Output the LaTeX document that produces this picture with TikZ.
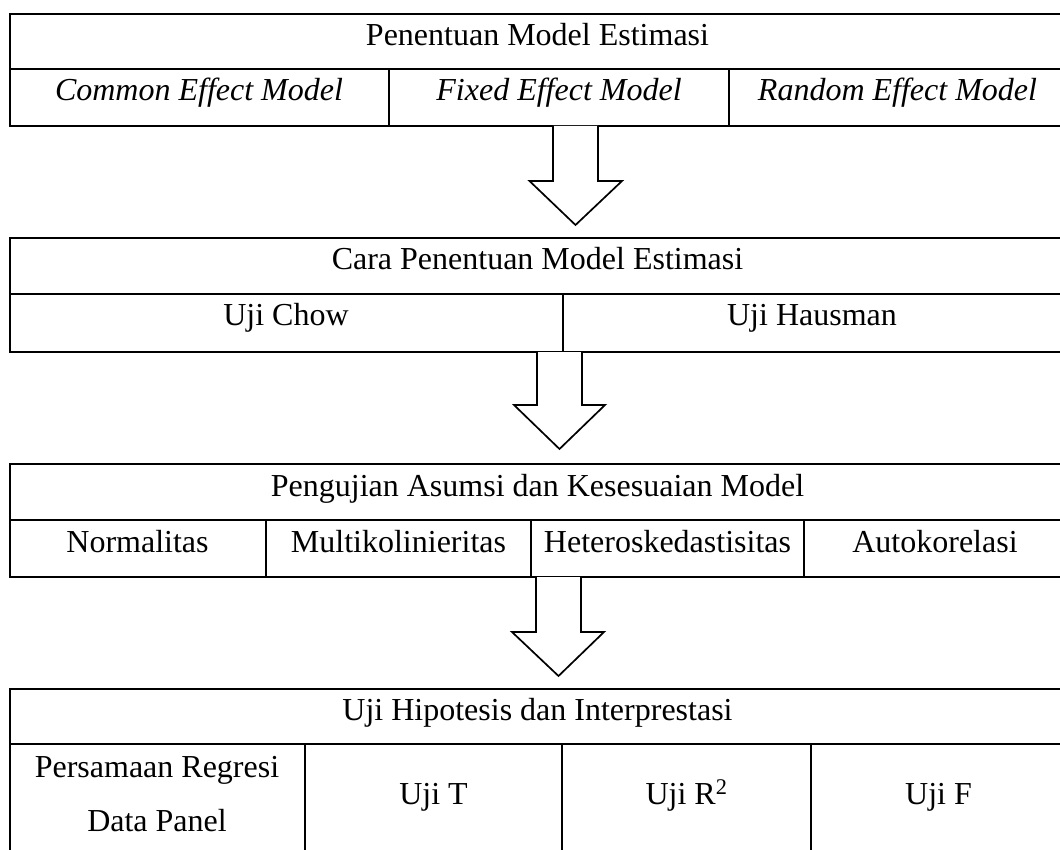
\documentclass[tikz,border=0pt]{standalone}
\usepackage{fontspec}
\setmainfont{Liberation Serif}
\begin{document}
\begin{tikzpicture}[x=1pt,y=-1pt,
  boxline/.style={line width=1.8pt},
  cellline/.style={line width=1.8pt},
  blockarrow/.style={line width=1.7pt, draw=black, fill=white, line join=miter},
  txt/.style={anchor=base, inner sep=0pt, font=\fontsize{32}{54}\selectfont},
  itxt/.style={txt, font=\fontsize{32}{54}\selectfont\itshape},
  boxnode/.style={draw, boxline, anchor=north west, inner sep=0pt, minimum width=1057pt}
]
\clip (0,0) rectangle (1060,850);
\fill[white] (0,0) rectangle (1060,850);

% ---------- Box 1 ----------
\node[boxnode, minimum height=112pt] (box1) at (9,13) {};
\draw[cellline] (9,69) -- (1066,69);
\draw[cellline] (389,69) -- (389,125);
\draw[cellline] (729,69) -- (729,125);
\node[txt] (t1) at (537.5,46) {Penentuan Model Estimasi};
\node[itxt] (c11) at (199,101) {Common Effect Model};
\node[itxt] (c12) at (559,101) {Fixed Effect Model};
\node[itxt] (c13) at (897.5,101) {Random Effect Model};

% ---------- Box 2 ----------
\node[boxnode, minimum height=114pt] (box2) at (9,237) {};
\draw[cellline] (9,294) -- (1066,294);
\draw[cellline] (563,294) -- (563,351);
\node[txt] (t2) at (537.5,270) {Cara Penentuan Model Estimasi};
\node[txt] (c21) at (286,326) {Uji Chow};
\node[txt] (c22) at (812,326) {Uji Hausman};

% ---------- Box 3 ----------
\node[boxnode, minimum height=113pt] (box3) at (9,463) {};
\draw[cellline] (9,520) -- (1066,520);
\draw[cellline] (266,520) -- (266,576);
\draw[cellline] (531,520) -- (531,576);
\draw[cellline] (804,520) -- (804,576);
\node[txt] (t3) at (537.5,496) {Pengujian Asumsi dan Kesesuaian Model};
\node[txt] (c31) at (137.5,552) {Normalitas};
\node[txt] (c32) at (398.5,552) {Multikolinieritas};
\node[txt] (c33) at (667.5,552) {Heteroskedastisitas};
\node[txt] (c34) at (935,552) {Autokorelasi};

% ---------- Box 4 ----------
\node[boxnode, minimum height=200pt] (box4) at (9,688) {};
\draw[cellline] (9,744) -- (1066,744);
\draw[cellline] (305,744) -- (305,900);
\draw[cellline] (562,744) -- (562,900);
\draw[cellline] (811,744) -- (811,900);
\node[txt] (t4) at (537.5,720) {Uji Hipotesis dan Interprestasi};
\node[txt, align=center] (c41) at (157,831) {Persamaan Regresi\\Data Panel};
\node[txt] (c42) at (433.5,804) {Uji T};
\node[txt] (c43) at (686.5,804) {Uji R\textsuperscript{2}};
\node[txt] (c44) at (938.5,804) {Uji F};

% ---------- Block arrows ----------
\coordinate (a1) at (575.5,126);
\coordinate (a2) at (559.5,352);
\coordinate (a3) at (558.5,577);
\draw[blockarrow] (a1) ++(-22.5,0) -- ++(0,55) -- ++(-23.5,0) -- (575.5,225)
  -- (622,181) -- (598,181) -- (598,126);
\draw[blockarrow] (a2) ++(-22.5,0) -- ++(0,53) -- ++(-23,0) -- (559.5,449)
  -- (605,405) -- (582,405) -- (582,352);
\draw[blockarrow] (a3) ++(-22.5,0) -- ++(0,55) -- ++(-24,0) -- (558.5,676)
  -- (604,632) -- (581,632) -- (581,577);
\end{tikzpicture}
\end{document}
